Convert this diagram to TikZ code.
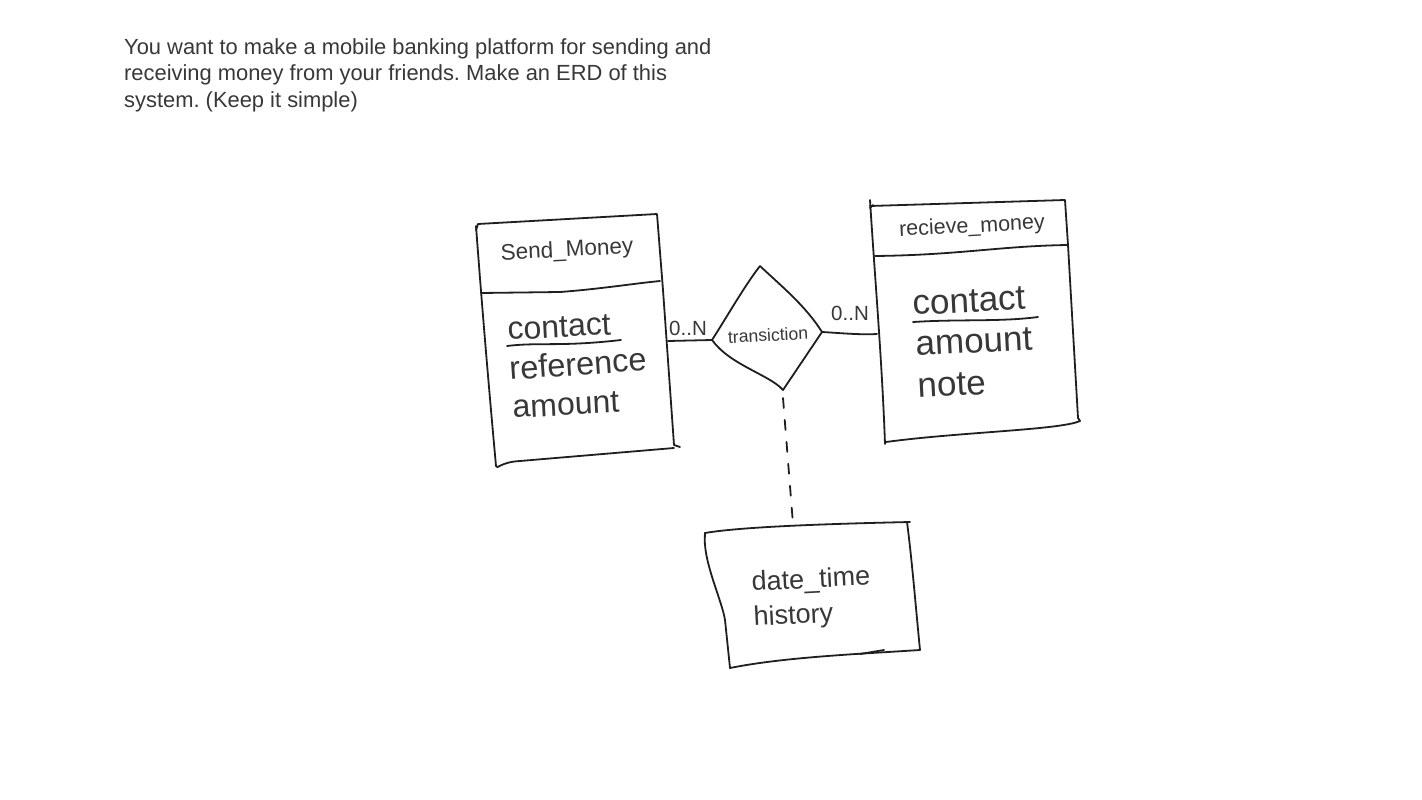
\documentclass[tikz,border=0pt]{standalone}
\usepackage{fontspec}
\setmainfont{Liberation Sans}
\frenchspacing
\begin{document}
\begin{tikzpicture}[x=1pt,y=-1pt,
  hand/.style={draw=black!88,line width=1.8pt,line cap=round,line join=round},
  txt/.style={text=black!78,inner sep=0pt,font=\fontsize{#1}{#1}\selectfont},
  txt/.default=20]
\useasboundingbox (0,0) rectangle (1422,800);
% question text
\node[txt, anchor=north west, align=left, font=\fontsize{21.9}{26.5}\selectfont] (q) at (124,38)
 {You want to make a mobile banking platform for sending and\\receiving money from your friends. Make an ERD of this\\system. (Keep it simple)};

% ---------- Send_Money entity ----------
\draw[hand] (476,230) -- (478,224) -- (657,214) -- (663,290) -- (674,445) -- (680,447);
\draw[hand] (476,226) .. controls (483,320) and (490,400) .. (496,466) .. controls (497,470) and (500,462) .. (520,461) -- (674,448);
\draw[hand] (481,293) -- (560,292) .. controls (600,289) and (630,284) .. (660,281);
\node[txt=22.5, rotate=3] (smt) at (567,251) {Send\_Money};
\node[txt=32, rotate=3, anchor=base west] (smc) at (508,340) {contact};
\draw[hand] (507,346) .. controls (540,342) and (560,347) .. (621,340);
\node[txt=32.5, rotate=4, anchor=base west] (smr) at (510,380) {reference};
\node[txt=32, rotate=3, anchor=base west] (sma) at (513,418) {amount};
\coordinate (smR) at (668,341);

% ---------- diamond ----------
\coordinate (dT) at (760,266);
\coordinate (dL) at (712,340);
\coordinate (dR) at (822,332);
\coordinate (dB) at (783,390);
\draw[hand] (dT) .. controls (745,285) and (725,320) .. (dL)
  .. controls (730,365) and (770,375) .. (dB)
  -- (dR) .. controls (805,305) and (780,285) .. (dT);
\node[txt=17.6, rotate=3] (dt) at (768,335) {transiction};

% ---------- recieve_money entity ----------
\draw[hand] (870,206) -- (1065,200) -- (1068,245) -- (1078,418) -- (1080,421)
  .. controls (1060,430) and (960,432) .. (886,442);
\draw[hand] (870,200) .. controls (875,280) and (882,360) .. (885,444);
\draw[hand] (873,205) -- (870,208);
\draw[hand] (875,256) .. controls (960,255) and (1000,246) .. (1068,245);
\node[txt=21.5, rotate=3] (rmt) at (972,227) {recieve\_money};
\node[txt=35, rotate=3, anchor=base west] (rmc) at (913,315) {contact};
\draw[hand] (913,322) .. controls (960,319) and (1000,322) .. (1038,317);
\node[txt=35, rotate=3, anchor=base west] (rma) at (916,356) {amount};
\node[txt=35, rotate=3, anchor=base west] (rmn) at (918,398) {note};
\coordinate (rmL) at (877,334);

% ---------- date_time entity ----------
\draw[hand] (705,533) -- (705,537);
\draw[hand] (705,533) .. controls (740,527) and (820,524) .. (910,522);
\draw[hand] (907,522) .. controls (912,560) and (916,610) .. (920,650)
  -- (888,652) .. controls (820,656) and (770,660) .. (730,668);
\draw[hand] (705,533) .. controls (702,560) and (722,600) .. (725,620) -- (730,668);
\draw[hand] (860,654) -- (884,650);
\node[txt=27, rotate=3, anchor=base west] (dtd) at (752,591) {date\_time};
\node[txt=27, rotate=3, anchor=base west] (dth) at (754,626) {history};
\coordinate (dtT) at (793,524);

% ---------- connectors ----------
\draw[hand] (smR) -- (dL);
\draw[hand] (dR) .. controls (840,333) and (860,335) .. (rmL);
\draw[hand, dash pattern=on 10pt off 12pt] (dB) ++(0,8) -- (dtT);
\node[txt=20.5] (n1) at (688,328) {0..N};
\node[txt=20.5] (n2) at (850,313) {0..N};
\end{tikzpicture}
\end{document}
